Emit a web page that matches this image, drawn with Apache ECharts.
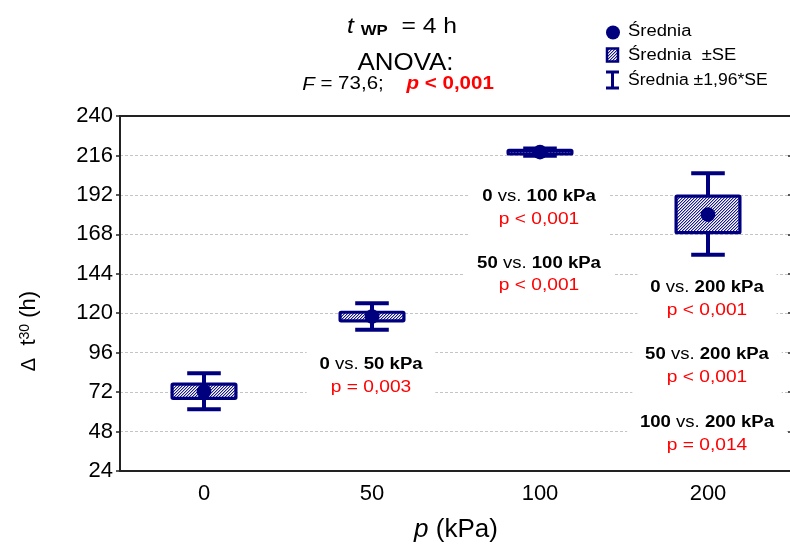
<!DOCTYPE html>
<html>
<head>
<meta charset="utf-8">
<script src="https://cdn.jsdelivr.net/npm/echarts@6/dist/echarts.min.js"></script>
<style>
  html, body { margin: 0; padding: 0; background: #fff; }
  #chart { width: 790px; height: 546px; }
</style>
</head>
<body>
<div id="chart"></div>
<script>
// Pressure levels (kPa) on the category axis
const categories = ['0', '50', '100', '200'];
// Mean Δt30 (h) per pressure level
const means = [72.5, 118, 218, 180];
// Mean ± SE
const seLow = [68.2, 115.4, 216.9, 169];
const seHigh = [76.8, 120.6, 219.1, 191.3];
// Mean ± 1.96*SE
const ciLow = [61.5, 110, 215.8, 155.6];
const ciHigh = [83.5, 126, 220.2, 205.2];

// Value axis range
const yMin = 24;
const yMax = 240;
const yStep = 24;

// Post-hoc comparisons written next to each group
const compCategory = ['50', '100', '100', '200', '200', '200'];
const compFrom = ['0', '0', '50', '0', '50', '100'];
const compTo = ['50 kPa', '100 kPa', '100 kPa', '200 kPa', '200 kPa', '200 kPa'];
const compP = ['p = 0,003', 'p < 0,001', 'p < 0,001', 'p < 0,001', 'p < 0,001', 'p = 0,014'];
const compLevel = [88.5, 190.9, 150.4, 135.3, 94.6, 53.4];

const NAVY = '#00007f';
const FONT = '"Liberation Sans", Arial, sans-serif';
const TEXT_SX = 1.16;

// Fine diagonal hatch used for the ±SE boxes
function makeHatch() {
  const c = document.createElement('canvas');
  c.width = 3; c.height = 3;
  const g = c.getContext('2d');
  g.fillStyle = '#ffffff';
  g.fillRect(0, 0, 3, 3);
  for (let x = 0; x < 3; x++) {
    for (let y = 0; y < 3; y++) {
      const k = (x + y) % 3;
      if (k === 0) { g.fillStyle = '#1a1a8a'; g.fillRect(x, y, 1, 1); }
      else if (k === 1) { g.fillStyle = '#a8a8d8'; g.fillRect(x, y, 1, 1); }
    }
  }
  return c;
}
const hatch = { image: makeHatch(), repeat: 'repeat' };

const boxData = categories.map((c, i) => [i, means[i], seLow[i], seHigh[i], ciLow[i], ciHigh[i]]);
const compData = compCategory.map((c, i) => [categories.indexOf(c), compLevel[i], i]);

function renderBox(params, api) {
  const idx = api.value(0);
  const band = api.size([1, 0])[0];
  const cx = api.coord([idx, api.value(1)])[0];
  const yMean = api.coord([idx, api.value(1)])[1];
  const ySeLo = api.coord([idx, api.value(2)])[1];
  const ySeHi = api.coord([idx, api.value(3)])[1];
  const yCiLo = api.coord([idx, api.value(4)])[1];
  const yCiHi = api.coord([idx, api.value(5)])[1];
  const boxHalf = band * 0.19;
  const capHalf = band * 0.1;
  return {
    type: 'group',
    children: [
      { type: 'line', shape: { x1: cx, y1: yCiHi, x2: cx, y2: yCiLo },
        style: { stroke: NAVY, lineWidth: 4 } },
      { type: 'line', shape: { x1: cx - capHalf, y1: yCiHi, x2: cx + capHalf, y2: yCiHi },
        style: { stroke: NAVY, lineWidth: 4 } },
      { type: 'line', shape: { x1: cx - capHalf, y1: yCiLo, x2: cx + capHalf, y2: yCiLo },
        style: { stroke: NAVY, lineWidth: 4 } },
      { type: 'rect', shape: { x: cx - boxHalf, y: ySeHi, width: boxHalf * 2, height: ySeLo - ySeHi, r: 1 },
        style: { fill: hatch, stroke: NAVY, lineWidth: 3.2 } },
      { type: 'circle', shape: { cx: cx, cy: yMean, r: 7.3 },
        style: { fill: NAVY } }
    ]
  };
}

const LINE_H = 22.6;
const PAD_V = 9;
const PAD_H = 11;
function renderComp(params, api) {
  const idx = api.value(0);
  const k = api.value(2);
  const pt = api.coord([idx, api.value(1)]);
  return {
    type: 'text',
    x: pt[0] - 1,
    y: pt[1] - LINE_H / 2 - PAD_V,
    scaleX: TEXT_SX,
    style: {
      text: '{b|' + compFrom[k] + '}{n| vs. }{b|' + compTo[k] + '}\n{r|' + compP[k] + '}',
      align: 'center',
      verticalAlign: 'top',
      backgroundColor: '#ffffff',
      padding: [PAD_V, PAD_H],
      lineHeight: LINE_H,
      fontFamily: FONT,
      rich: {
        b: { fontSize: 16, fontWeight: 'bold', fill: '#000', color: '#000', fontFamily: FONT, lineHeight: LINE_H },
        n: { fontSize: 16, fill: '#000', color: '#000', fontFamily: FONT, lineHeight: LINE_H },
        r: { fontSize: 16.5, fill: '#ff0000', color: '#ff0000', fontFamily: FONT, lineHeight: LINE_H }
      }
    }
  };
}

const axisLineStyle = { color: '#222', width: 2 };

const option = {
  animation: false,
  backgroundColor: '#ffffff',
  textStyle: { fontFamily: FONT },
  grid: { left: 120, right: -2, top: 116, bottom: 75, outerBoundsMode: 'none', containLabel: false },
  xAxis: [
    {
      type: 'category', data: categories, position: 'bottom', boundaryGap: true,
      axisLine: { lineStyle: axisLineStyle },
      axisTick: { inside: true, alignWithLabel: true, length: 5, lineStyle: { color: '#222', width: 1.5 } },
      axisLabel: { fontSize: 22, color: '#000', margin: 12, fontFamily: FONT },
      splitLine: { show: false },
      name: '{i|p} (kPa)', nameLocation: 'middle', nameGap: 46,
      nameTextStyle: { fontSize: 26, color: '#000', fontFamily: FONT,
        rich: { i: { fontSize: 26, fontStyle: 'italic', color: '#000', fontFamily: FONT } } }
    },
    {
      type: 'category', data: categories, position: 'top', boundaryGap: true,
      axisLine: { lineStyle: axisLineStyle },
      axisTick: { inside: true, alignWithLabel: true, length: 5, lineStyle: { color: '#222', width: 1.5 } },
      axisLabel: { show: false },
      splitLine: { show: false }
    }
  ],
  yAxis: [
    {
      type: 'value', min: yMin, max: yMax, interval: yStep, position: 'left',
      axisLine: { show: true, lineStyle: axisLineStyle },
      axisTick: { show: true, inside: false, length: 4, lineStyle: { color: '#222', width: 1.5 } },
      axisLabel: { fontSize: 22, color: '#000', margin: 7, fontFamily: FONT },
      splitLine: { show: true, lineStyle: { color: '#c4c4c4', width: 1, type: [3, 2] } }
    },
    {
      type: 'value', min: yMin, max: yMax, interval: yStep, position: 'right',
      axisLine: { show: true, lineStyle: axisLineStyle },
      axisTick: { show: true, inside: true, length: 4, lineStyle: { color: '#222', width: 1.5 } },
      axisLabel: { show: false },
      splitLine: { show: false }
    }
  ],
  series: [
    {
      type: 'custom', name: 'comparisons', xAxisIndex: 0, yAxisIndex: 0,
      data: compData, renderItem: renderComp, z: 3, silent: true
    },
    {
      type: 'custom', name: 'Średnia', xAxisIndex: 0, yAxisIndex: 0,
      data: boxData, renderItem: renderBox, z: 5, silent: true
    }
  ],
  graphic: [
    // heading
    { type: 'text', x: 402, y: 27, scaleX: 1.12,
      style: { text: '{t|t }{s|WP}{n|  = 4 h}', align: 'center', verticalAlign: 'middle', fontFamily: FONT,
        rich: {
          t: { fontSize: 22, fontStyle: 'italic', fill: '#000', fontFamily: FONT },
          s: { fontSize: 15, fontWeight: 'bold', fill: '#000', fontFamily: FONT, verticalAlign: 'bottom', padding: [6, 0, 0, 0] },
          n: { fontSize: 22, fill: '#000', fontFamily: FONT }
        } } },
    { type: 'text', x: 405.5, y: 63, scaleX: 1.08,
      style: { text: 'ANOVA:', align: 'center', verticalAlign: 'middle', fontSize: 24, fill: '#000', fontFamily: FONT } },
    { type: 'text', x: 398, y: 84.5, scaleX: 1.14,
      style: { text: '{fi|F}{n| = 73,6;    }{pi|p}{pb| < 0,001}', align: 'center', verticalAlign: 'middle', fontFamily: FONT,
        rich: {
          fi: { fontSize: 18, fontStyle: 'italic', fill: '#000', fontFamily: FONT },
          n: { fontSize: 18, fill: '#000', fontFamily: FONT },
          pi: { fontSize: 18, fontStyle: 'italic', fontWeight: 'bold', fill: '#ff0000', fontFamily: FONT },
          pb: { fontSize: 18, fontWeight: 'bold', fill: '#ff0000', fontFamily: FONT }
        } } },
    // legend
    { type: 'circle', shape: { cx: 613, cy: 32.5, r: 7 }, style: { fill: NAVY } },
    { type: 'rect', shape: { x: 607, y: 48.5, width: 11, height: 13 },
      style: { fill: hatch, stroke: NAVY, lineWidth: 2.5 } },
    { type: 'line', shape: { x1: 606, y1: 72, x2: 619, y2: 72 }, style: { stroke: NAVY, lineWidth: 3 } },
    { type: 'line', shape: { x1: 612.5, y1: 72, x2: 612.5, y2: 88 }, style: { stroke: NAVY, lineWidth: 3 } },
    { type: 'line', shape: { x1: 606, y1: 88, x2: 619, y2: 88 }, style: { stroke: NAVY, lineWidth: 3 } },
    { type: 'text', x: 628, y: 31.5, scaleX: 1.15,
      style: { text: 'Średnia', align: 'left', verticalAlign: 'middle', fontSize: 16, fill: '#000', fontFamily: FONT } },
    { type: 'text', x: 628, y: 55.5, scaleX: 1.15,
      style: { text: 'Średnia  ±SE', align: 'left', verticalAlign: 'middle', fontSize: 16, fill: '#000', fontFamily: FONT } },
    { type: 'text', x: 628, y: 80.5, scaleX: 1.1,
      style: { text: 'Średnia ±1,96*SE', align: 'left', verticalAlign: 'middle', fontSize: 16, fill: '#000', fontFamily: FONT } },
    // value axis title
    { type: 'text', x: 29, y: 331, rotation: Math.PI / 2,
      style: { text: '{d|Δ}{n|  t}{u|30}{n| (h)}', align: 'center', verticalAlign: 'middle', fontFamily: FONT,
        rich: {
          d: { fontSize: 20, fill: '#000', fontFamily: FONT },
          n: { fontSize: 22, fill: '#000', fontFamily: FONT },
          u: { fontSize: 14, fill: '#000', fontFamily: FONT, verticalAlign: 'top' }
        } } }
  ]
};

const chart = echarts.init(document.getElementById('chart'), null, { renderer: 'canvas' });
chart.setOption(option);
</script>
</body>
</html>
